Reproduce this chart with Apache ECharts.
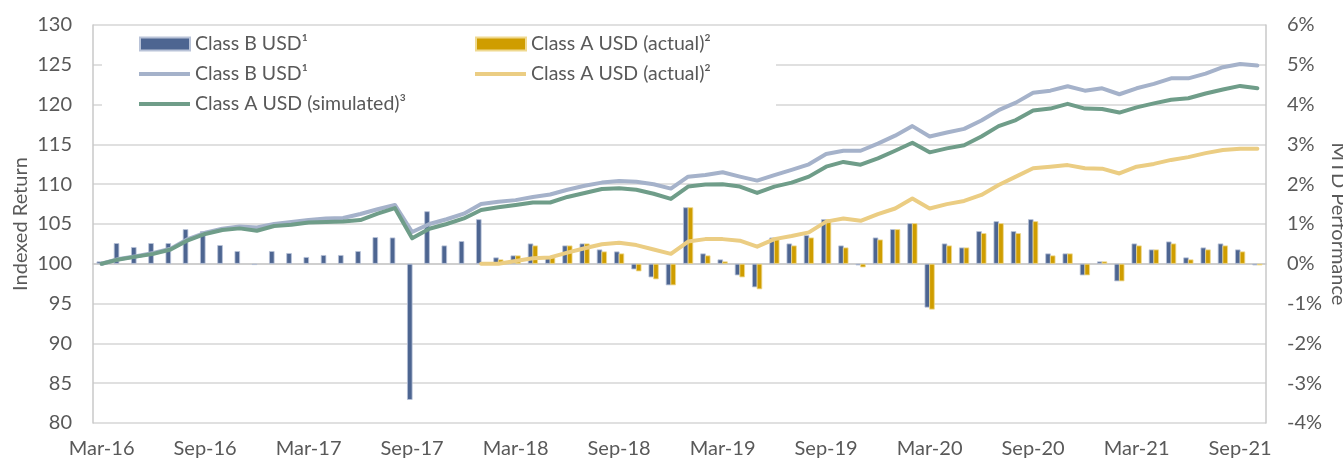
<!DOCTYPE html>
<html>
<head>
<meta charset="utf-8">
<script src="https://cdn.jsdelivr.net/npm/echarts@6/dist/echarts.min.js"></script>
<style>
  html, body { margin: 0; padding: 0; background: #fff; }
  #chart { width: 1343px; height: 459px; }
</style>
</head>
<body>
<div id="chart"></div>
<script>
// month categories, Mar-16 .. Oct-21
const months = [
  "Mar-16", "Apr-16", "May-16", "Jun-16", "Jul-16", "Aug-16", "Sep-16", "Oct-16", "Nov-16", "Dec-16", "Jan-17", "Feb-17",
  "Mar-17", "Apr-17", "May-17", "Jun-17", "Jul-17", "Aug-17", "Sep-17", "Oct-17", "Nov-17", "Dec-17", "Jan-18", "Feb-18",
  "Mar-18", "Apr-18", "May-18", "Jun-18", "Jul-18", "Aug-18", "Sep-18", "Oct-18", "Nov-18", "Dec-18", "Jan-19", "Feb-19",
  "Mar-19", "Apr-19", "May-19", "Jun-19", "Jul-19", "Aug-19", "Sep-19", "Oct-19", "Nov-19", "Dec-19", "Jan-20", "Feb-20",
  "Mar-20", "Apr-20", "May-20", "Jun-20", "Jul-20", "Aug-20", "Sep-20", "Oct-20", "Nov-20", "Dec-20", "Jan-21", "Feb-21",
  "Mar-21", "Apr-21", "May-21", "Jun-21", "Jul-21", "Aug-21", "Sep-21", "Oct-21"
]

// MTD performance, %
const classBMtd = [
  0.06, 0.52, 0.42, 0.52, 0.52, 0.87, 0.82, 0.47, 0.32, -0.03, 0.32, 0.27,
  0.17, 0.22, 0.22, 0.32, 0.67, 0.66, -3.42, 1.32, 0.46, 0.57, 1.12, 0.16,
  0.21, 0.51, 0.16, 0.46, 0.51, 0.36, 0.31, -0.14, -0.34, -0.54, 1.42, 0.26,
  0.11, -0.29, -0.59, 0.66, 0.51, 0.72, 1.12, 0.46, -0.04, 0.66, 0.87, 1.02,
  -1.10, 0.51, 0.41, 0.82, 1.07, 0.82, 1.12, 0.26, 0.26, -0.29, 0.06, -0.44,
  0.51, 0.36, 0.56, 0.16, 0.41, 0.51, 0.36, -0.04
]
const classAMtd = [
  null, null, null, null, null, null, null, null, null, null, null, null,
  null, null, null, null, null, null, null, null, null, null, null, 0.11,
  0.21, 0.46, 0.16, 0.46, 0.51, 0.31, 0.26, -0.19, -0.39, -0.54, 1.42, 0.21,
  0.06, -0.34, -0.64, 0.66, 0.46, 0.66, 1.12, 0.41, -0.09, 0.61, 0.87, 1.02,
  -1.15, 0.46, 0.41, 0.77, 1.02, 0.77, 1.07, 0.21, 0.26, -0.29, 0.06, -0.44,
  0.46, 0.36, 0.51, 0.11, 0.36, 0.46, 0.31, -0.04
]

// indexed returns
const classBIndex = [
  100, 100.6, 100.95, 101.35, 101.9, 103.1, 103.9, 104.4, 104.7, 104.55, 105.0, 105.25,
  105.5, 105.7, 105.75, 106.25, 106.85, 107.4, 104.0, 105.0, 105.6, 106.3, 107.5, 107.8,
  108.0, 108.4, 108.7, 109.3, 109.8, 110.2, 110.4, 110.3, 110.0, 109.45, 110.95, 111.15,
  111.5, 110.95, 110.45, 111.15, 111.8, 112.5, 113.8, 114.2, 114.2, 115.1, 116.1, 117.3,
  116.0, 116.5, 116.95, 118.0, 119.3, 120.25, 121.5, 121.75, 122.3, 121.75, 122.05, 121.3,
  122.05, 122.6, 123.3, 123.3, 123.9, 124.7, 125.1, 124.9
]
const classAIndex = [
  null, null, null, null, null, null, null, null, null, null, null, null,
  null, null, null, null, null, null, null, null, null, null, 100, 100.0,
  100.35, 100.7, 100.8, 101.4, 101.95, 102.45, 102.65, 102.35, 101.8, 101.25, 102.8, 103.1,
  103.1, 102.9, 102.15, 103.1, 103.5, 103.95, 105.3, 105.7, 105.4, 106.25, 106.95, 108.2,
  106.95, 107.5, 107.9, 108.65, 109.9, 110.95, 112.0, 112.2, 112.4, 112.0, 111.95, 111.35,
  112.2, 112.55, 113.05, 113.4, 113.9, 114.3, 114.45, 114.45
]
const simIndex = [
  100, 100.55, 100.9, 101.25, 101.8, 102.95, 103.75, 104.25, 104.45, 104.15, 104.75, 104.9,
  105.2, 105.25, 105.3, 105.5, 106.3, 107.0, 103.2, 104.4, 105.0, 105.7, 106.75, 107.1,
  107.4, 107.7, 107.7, 108.4, 108.9, 109.4, 109.5, 109.3, 108.8, 108.15, 109.7, 109.95,
  110.0, 109.7, 108.9, 109.7, 110.2, 110.95, 112.2, 112.8, 112.45, 113.25, 114.2, 115.2,
  114.0, 114.5, 114.9, 116.0, 117.3, 118.05, 119.25, 119.5, 120.1, 119.5, 119.45, 119.0,
  119.65, 120.15, 120.6, 120.8, 121.4, 121.9, 122.35, 122.05
]

const FONT = "Lato"
const FS = 20
const TXT = "#595959"
const BLUE = "#4d6591"
const GOLD = "#cf9d00"
const BLUE_LINE = "#a5b2ca"
const GOLD_LINE = "#ebcd83"
const GREEN_LINE = "#6f9d89"

const chart = echarts.init(document.getElementById("chart"))

function legendItem(name, label, left, top, isBar) {
  return {
    data: [name],
    formatter: () => label,
    left: left,
    top: top,
    padding: 0,
    icon: "rect",
    itemWidth: isBar ? 50 : 51,
    itemHeight: isBar ? 13 : 4,
    selectedMode: false,
    textStyle: { fontFamily: FONT, fontSize: 19.5, color: TXT, lineHeight: 24 },
  }
}

chart.setOption({
  animation: false,
  grid: { left: 93, right: 77, top: 25, bottom: 36, containLabel: false, outerBoundsMode: "none" },
  graphic: [
    {
      type: "rect",
      z: 1,
      shape: { x: 102, y: 28, width: 674, height: 88 },
      style: { fill: "#fff" },
    },
  ],
  legend: [
    legendItem("Class B USD¹ MTD", "Class B USD¹", 139, 32, true),
    legendItem("Class A USD (actual)² MTD", "Class A USD (actual)²", 475, 32, true),
    legendItem("Class B USD¹", "Class B USD¹", 139, 62, false),
    legendItem("Class A USD (actual)²", "Class A USD (actual)²", 475, 62, false),
    legendItem("Class A USD (simulated)³", "Class A USD (simulated)³", 139, 92, false),
  ],
  xAxis: {
    type: "category",
    data: months,
    boundaryGap: true,
    axisLine: { lineStyle: { color: "#c9c9c9", width: 1.5 } },
    axisTick: { interval: 5, length: 6, lineStyle: { color: "#c9c9c9", width: 1.5 } },
    axisLabel: { interval: 5, margin: 16, fontFamily: FONT, fontSize: FS, color: TXT },
    splitLine: { show: false },
  },
  yAxis: [
    {
      type: "value",
      min: 80,
      max: 130,
      interval: 5,
      name: "Indexed Return",
      nameLocation: "middle",
      nameRotate: 90,
      nameGap: 62,
      nameMoveOverlap: false,
      nameTextStyle: { fontFamily: FONT, fontSize: FS, color: TXT },
      axisLine: { show: true, lineStyle: { color: "#c9c9c9", width: 1.5 } },
      axisTick: { show: false },
      axisLabel: { margin: 21, fontFamily: FONT, fontSize: FS, color: TXT },
      splitLine: { lineStyle: { color: "#d6d6d6", width: 1.5 } },
    },
    {
      type: "value",
      min: -4,
      max: 6,
      interval: 1,
      name: "MTD Performance",
      nameLocation: "middle",
      nameRotate: -90,
      nameGap: 62,
      nameMoveOverlap: false,
      nameTextStyle: { fontFamily: FONT, fontSize: FS, color: TXT },
      axisLine: { show: true, lineStyle: { color: "#c9c9c9", width: 1.5 } },
      axisTick: { show: false },
      axisLabel: { margin: 21, fontFamily: FONT, fontSize: FS, color: TXT, formatter: "{value}%" },
      splitLine: { show: false },
    },
  ],
  series: [
    {
      name: "Class B USD¹ MTD",
      type: "bar",
      yAxisIndex: 1,
      data: classBMtd,
      barWidth: 5.5,
      barGap: "-15%",
      itemStyle: { color: BLUE, borderColor: "#b9c3d8", borderWidth: 0.8 },
    },
    {
      name: "Class A USD (actual)² MTD",
      type: "bar",
      yAxisIndex: 1,
      data: classAMtd,
      barWidth: 5.5,
      barGap: "-15%",
      itemStyle: { color: GOLD, borderColor: "#efd990", borderWidth: 0.8 },
    },
    {
      name: "Class B USD¹",
      type: "line",
      yAxisIndex: 0,
      data: classBIndex,
      showSymbol: false,
      symbol: "none",
      color: BLUE_LINE,
      lineStyle: { color: BLUE_LINE, width: 4, cap: "round", join: "round" },
    },
    {
      name: "Class A USD (actual)²",
      type: "line",
      yAxisIndex: 0,
      data: classAIndex,
      showSymbol: false,
      symbol: "none",
      color: GOLD_LINE,
      lineStyle: { color: GOLD_LINE, width: 4, cap: "round", join: "round" },
    },
    {
      name: "Class A USD (simulated)³",
      type: "line",
      yAxisIndex: 0,
      data: simIndex,
      showSymbol: false,
      symbol: "none",
      color: GREEN_LINE,
      lineStyle: { color: GREEN_LINE, width: 4, cap: "round", join: "round" },
    },
  ],
})
</script>
</body>
</html>
